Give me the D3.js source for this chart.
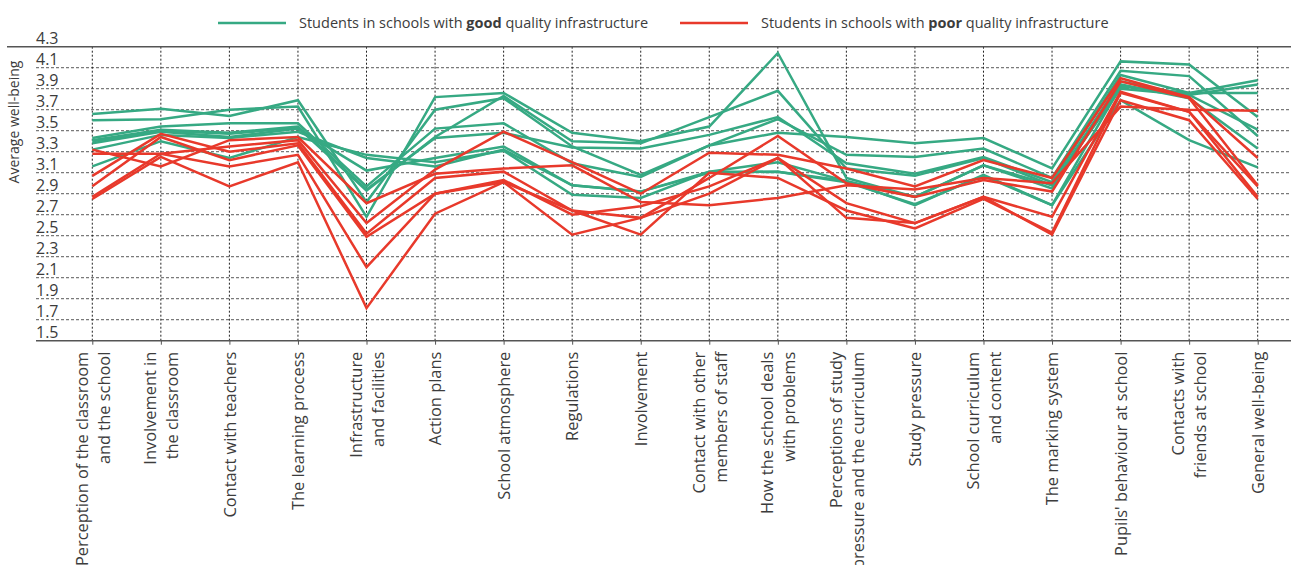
<!DOCTYPE html>
<html>
<head>
<meta charset="utf-8">
<script src="https://cdn.jsdelivr.net/npm/d3@7"></script>
<style>
  body { margin: 0; background: #fff; }
  svg { display: block; }
</style>
</head>
<body>
<svg width="1291" height="565"></svg>
<script>
// categories (| marks a line break in the axis label)
const categories = [
  'Perception of the classroom|and the school',
  'Involvement in|the classroom',
  'Contact with teachers',
  'The learning process',
  'Infrastructure|and facilities',
  'Action plans',
  'School atmosphere',
  'Regulations',
  'Involvement',
  'Contact with other|members of staff',
  'How the school deals|with problems',
  'Perceptions of study|pressure and the curriculum',
  'Study pressure',
  'School curriculum|and content',
  'The marking system',
  'Pupils\' behaviour at school',
  'Contacts with|friends at school',
  'General well-being'
];

const yTicks = [4.3, 4.1, 3.9, 3.7, 3.5, 3.3, 3.1, 2.9, 2.7, 2.5, 2.3, 2.1, 1.9, 1.7, 1.5];

// schools with good quality infrastructure
const good1 = [3.66, 3.71, 3.64, 3.79, 2.82, 3.70, 3.81, 3.35, 3.08, 3.36, 3.61, 3.27, 3.25, 3.33, 3.05, 4.07, 4.02, 3.45];
const good2 = [3.60, 3.61, 3.70, 3.73, 2.68, 3.82, 3.86, 3.48, 3.40, 3.54, 4.24, 3.05, 2.87, 3.17, 2.95, 3.94, 3.81, 3.33];
const good3 = [3.43, 3.54, 3.57, 3.57, 2.97, 3.52, 3.57, 3.19, 3.06, 3.36, 3.48, 3.44, 3.38, 3.43, 3.14, 4.16, 4.13, 3.63];
const good4 = [3.41, 3.51, 3.48, 3.54, 2.94, 3.43, 3.48, 3.34, 3.33, 3.46, 3.63, 3.19, 3.09, 3.25, 3.01, 4.03, 3.86, 3.98];
const good5 = [3.38, 3.49, 3.44, 3.52, 3.12, 3.24, 3.35, 2.98, 2.92, 3.11, 3.20, 3.02, 2.79, 3.08, 2.79, 3.92, 3.86, 3.86];
const good6 = [3.16, 3.40, 3.24, 3.44, 3.27, 3.20, 3.31, 2.89, 2.86, 3.11, 3.11, 3.01, 2.80, 3.07, 2.79, 3.79, 3.41, 3.15];
const good7 = [3.32, 3.46, 3.43, 3.49, 3.24, 3.16, 3.32, 2.98, 2.92, 3.10, 3.11, 3.02, 2.87, 3.17, 2.98, 3.90, 3.84, 3.51];
const good8 = [3.40, 3.50, 3.47, 3.53, 2.93, 3.44, 3.83, 3.40, 3.38, 3.63, 3.88, 3.14, 3.07, 3.24, 2.98, 3.97, 3.84, 3.94];

// schools with poor quality infrastructure
const poor1 = [3.32, 3.16, 3.41, 3.44, 2.81, 3.09, 3.14, 3.17, 2.82, 2.79, 2.86, 2.98, 2.94, 3.05, 3.00, 3.73, 3.70, 3.69];
const poor2 = [3.28, 3.28, 3.35, 3.41, 2.62, 3.13, 3.49, 3.20, 2.90, 3.29, 3.27, 3.14, 2.97, 3.22, 3.05, 4.00, 3.82, 3.24];
const poor3 = [3.07, 3.47, 3.30, 3.38, 2.52, 3.05, 3.11, 2.74, 2.67, 3.05, 3.45, 3.00, 2.87, 3.03, 2.92, 3.97, 3.81, 2.98];
const poor4 = [2.97, 3.44, 3.22, 3.36, 2.49, 2.90, 3.03, 2.70, 2.78, 2.97, 3.24, 2.81, 2.62, 2.87, 2.68, 3.87, 3.68, 2.97];
const poor5 = [2.87, 3.28, 3.16, 3.27, 2.20, 2.90, 3.01, 2.74, 2.51, 3.10, 3.05, 2.74, 2.57, 2.85, 2.53, 3.86, 3.68, 2.87];
const poor6 = [2.85, 3.25, 2.97, 3.20, 1.81, 2.71, 3.01, 2.51, 2.67, 2.90, 3.24, 2.67, 2.62, 2.87, 2.51, 3.79, 3.60, 2.85];

const goodSeries = [good1, good2, good3, good4, good5, good6, good7, good8];
const poorSeries = [poor1, poor2, poor3, poor4, poor5, poor6];

const green = '#36a983';
const red = '#e8392b';
const textColor = '#3c3c3c';
const font = '"Open Sans", Lato, sans-serif';

const svg = d3.select('svg')
    .style('font-family', font);

const x = d3.scalePoint()
    .domain(categories)
    .range([92.3, 1257.7]);

const y = d3.scaleLinear()
    .domain([1.5, 4.3])
    .range([340.7, 46.7]);

// horizontal grid
svg.append('g')
    .selectAll('line')
    .data(yTicks.filter(t => t !== 4.3 && t !== 1.5))
    .join('line')
    .attr('x1', 36)
    .attr('x2', 1291)
    .attr('y1', d => y(d))
    .attr('y2', d => y(d))
    .attr('stroke', '#7a7a7a')
    .attr('stroke-width', 1.3)
    .attr('stroke-dasharray', '3,2');

// vertical grid
svg.append('g')
    .selectAll('line')
    .data(categories)
    .join('line')
    .attr('x1', d => x(d))
    .attr('x2', d => x(d))
    .attr('y1', y(4.3))
    .attr('y2', y(1.5))
    .attr('stroke', '#222')
    .attr('stroke-width', 1)
    .attr('stroke-dasharray', '2,2');

// top frame line
svg.append('line')
    .attr('x1', 7).attr('x2', 1291)
    .attr('y1', y(4.3)).attr('y2', y(4.3))
    .attr('stroke', '#555').attr('stroke-width', 1.6);

// y tick labels (sit just above their line)
svg.append('g')
    .selectAll('text')
    .data(yTicks)
    .join('text')
    .attr('x', 36)
    .attr('y', d => y(d) - 3)
    .text(d => d.toFixed(1))
    .style('font-size', '16px')
    .style('fill', textColor);

// y title
svg.append('text')
    .attr('transform', 'translate(19,122) rotate(-90)')
    .attr('text-anchor', 'middle')
    .text('Average well-being')
    .style('font-size', '14px')
    .style('fill', textColor);

// x axis
const xAxis = svg.append('g')
    .attr('transform', `translate(0,${y(1.5)})`)
    .call(d3.axisBottom(x).tickSize(4).tickSizeOuter(0));

xAxis.select('.domain')
    .attr('d', `M36,0H1291`)
    .attr('stroke', '#555')
    .attr('stroke-width', 1.6);
xAxis.selectAll('.tick line').attr('stroke', '#555');

xAxis.selectAll('.tick text').remove();
xAxis.selectAll('.tick')
    .append('text')
    .attr('transform', 'translate(0,11) rotate(-90)')
    .attr('text-anchor', 'end')
    .style('font-size', '16.4px')
    .style('fill', textColor)
    .style('font-family', font)
    .each(function(d) {
        const lines = d.split('|');
        const t = d3.select(this);
        lines.forEach((ln, i) => {
            const off = (i - (lines.length - 1) / 2) * 22;
            t.append('tspan')
                .attr('x', 0)
                .attr('y', off)
                .attr('dy', '0.35em')
                .text(ln);
        });
    });

// lines
const line = d3.line()
    .x((d, i) => x(categories[i]))
    .y(d => y(d));

svg.append('g')
    .selectAll('path')
    .data(goodSeries)
    .join('path')
    .attr('d', line)
    .attr('fill', 'none')
    .attr('stroke', green)
    .attr('stroke-width', 2.5)
    .attr('stroke-linejoin', 'miter');

svg.append('g')
    .selectAll('path')
    .data(poorSeries)
    .join('path')
    .attr('d', line)
    .attr('fill', 'none')
    .attr('stroke', red)
    .attr('stroke-width', 2.5)
    .attr('stroke-linejoin', 'miter');

// legend
const legend = [
    { color: green, x: 218, pre: 'Students in schools with ', bold: 'good', post: ' quality infrastructure' },
    { color: red, x: 680, pre: 'Students in schools with ', bold: 'poor', post: ' quality infrastructure' }
];
const lg = svg.append('g')
    .selectAll('g')
    .data(legend)
    .join('g')
    .attr('transform', d => `translate(${d.x},23)`);
lg.append('line')
    .attr('x1', 0).attr('x2', 68)
    .attr('stroke', d => d.color)
    .attr('stroke-width', 2.5);
const lt = lg.append('text')
    .attr('x', 81)
    .attr('y', 5)
    .style('font-size', '14.5px')
    .style('fill', textColor);
lt.append('tspan').text(d => d.pre);
lt.append('tspan').style('font-weight', 'bold').text(d => d.bold);
lt.append('tspan').text(d => d.post);
</script>
</body>
</html>
